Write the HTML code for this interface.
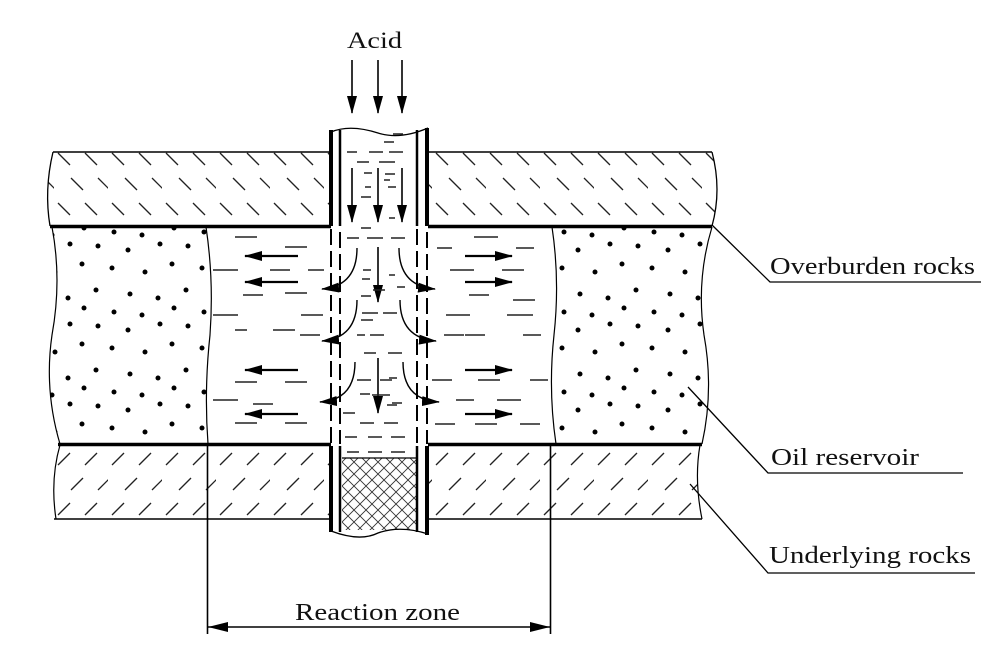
<!DOCTYPE html>
<html><head><meta charset="utf-8"><style>
html,body{margin:0;padding:0;background:#fff;}
svg{display:block;}
text{font-family:"Liberation Serif","Times New Roman",serif;fill:#111;}
</style></head><body>
<svg width="997" height="667" viewBox="0 0 997 667" xmlns="http://www.w3.org/2000/svg">
<defs>
<pattern id="hb" width="54" height="50" patternUnits="userSpaceOnUse">
<line x1="4" y1="3" x2="16" y2="15" stroke="#222" stroke-width="1.3"/>
<line x1="31" y1="3" x2="43" y2="15" stroke="#222" stroke-width="1.3"/>
<line x1="17" y1="28" x2="29" y2="40" stroke="#222" stroke-width="1.3"/>
<line x1="44" y1="28" x2="56" y2="40" stroke="#222" stroke-width="1.3"/>
</pattern>
<pattern id="hf" width="54" height="50" patternUnits="userSpaceOnUse">
<line x1="16" y1="3" x2="4" y2="15" stroke="#222" stroke-width="1.3"/>
<line x1="43" y1="3" x2="31" y2="15" stroke="#222" stroke-width="1.3"/>
<line x1="29" y1="28" x2="17" y2="40" stroke="#222" stroke-width="1.3"/>
<line x1="56" y1="28" x2="44" y2="40" stroke="#222" stroke-width="1.3"/>
</pattern>
<pattern id="dots" width="90" height="80" patternUnits="userSpaceOnUse">
<circle cx="8" cy="6" r="2.5"/><circle cx="38" cy="10" r="2.5"/><circle cx="70" cy="4" r="2.5"/>
<circle cx="22" cy="28" r="2.5"/><circle cx="55" cy="32" r="2.5"/><circle cx="82" cy="24" r="2.5"/>
<circle cx="6" cy="50" r="2.5"/><circle cx="40" cy="54" r="2.5"/><circle cx="68" cy="58" r="2.5"/>
<circle cx="24" cy="72" r="2.5"/><circle cx="52" cy="75" r="2.5"/><circle cx="84" cy="68" r="2.5"/>
</pattern>
<pattern id="xh" width="12" height="12" patternUnits="userSpaceOnUse">
<path d="M0 0L12 12M12 0L0 12" stroke="#333" stroke-width="0.9"/>
</pattern>
<marker id="ah2" markerWidth="18" markerHeight="10" refX="17" refY="5" orient="auto" markerUnits="userSpaceOnUse">
<path d="M0 0L18 5L0 10Z" fill="#000"/></marker>
</defs>

<path d="M53 152 L331 152 L331 226 L50 226 Q44 190 53 152Z" fill="url(#hb)"/>
<path d="M428 152 L712 152 Q722 190 712 226 L428 226Z" fill="url(#hb)"/>
<path d="M53 152 Q44 190 50 226" fill="none" stroke="#000" stroke-width="1.3"/>
<path d="M712 152 Q722 190 712 226" fill="none" stroke="#000" stroke-width="1.3"/>
<line x1="53" y1="152" x2="331" y2="152" stroke="#000" stroke-width="1.6"/>
<line x1="428" y1="152" x2="712" y2="152" stroke="#000" stroke-width="1.6"/>

<path d="M52 227 Q62 280 52 335 Q44 390 60 444 L208 444 Q204 390 210 335 Q214 280 206 227Z" fill="url(#dots)"/>
<path d="M552 227 Q560 280 554 335 Q548 390 556 444 L702 444 Q714 390 704 335 Q696 280 712 227Z" fill="url(#dots)"/>
<path d="M52 227 Q62 280 52 335 Q44 390 60 444" fill="none" stroke="#000" stroke-width="1.2"/>
<path d="M206 227 Q214 280 210 335 Q204 390 208 444" fill="none" stroke="#000" stroke-width="1.2"/>
<path d="M552 227 Q560 280 554 335 Q548 390 556 444" fill="none" stroke="#000" stroke-width="1.2"/>
<path d="M712 227 Q696 280 704 335 Q714 390 702 444" fill="none" stroke="#000" stroke-width="1.2"/>

<path d="M60 445 Q50 480 56 519 L331 519 L331 445Z" fill="url(#hf)"/>
<path d="M428 445 L700 445 Q694 480 702 519 L428 519Z" fill="url(#hf)"/>
<path d="M60 445 Q50 480 56 519" fill="none" stroke="#000" stroke-width="1.2"/>
<path d="M700 445 Q694 480 702 519" fill="none" stroke="#000" stroke-width="1.2"/>
<line x1="54" y1="519" x2="331" y2="519" stroke="#000" stroke-width="1.6"/>
<line x1="428" y1="519" x2="702" y2="519" stroke="#000" stroke-width="1.6"/>

<line x1="50" y1="226.5" x2="712" y2="226.5" stroke="#000" stroke-width="3.5"/>
<line x1="58" y1="444.5" x2="702" y2="444.5" stroke="#000" stroke-width="3.5"/>
<rect x="331" y="224" width="97" height="5" fill="#fff"/>
<rect x="331" y="442" width="97" height="5" fill="#fff"/>

<path d="M331 132 Q350 124 378 133 Q400 140 428 128" fill="none" stroke="#000" stroke-width="1.3"/>
<line x1="331" y1="130" x2="331" y2="226" stroke="#000" stroke-width="4"/>
<line x1="340" y1="130" x2="340" y2="226" stroke="#000" stroke-width="2.5"/>
<line x1="417" y1="130" x2="417" y2="226" stroke="#000" stroke-width="2.5"/>
<line x1="427" y1="128" x2="427" y2="226" stroke="#000" stroke-width="4"/>
<g stroke="#000" stroke-width="2" stroke-dasharray="16 6">
<line x1="331" y1="229" x2="331" y2="444"/>
<line x1="340" y1="232" x2="340" y2="444"/>
<line x1="417" y1="229" x2="417" y2="444"/>
<line x1="427" y1="232" x2="427" y2="444"/>
</g>
<rect x="342" y="458" width="75" height="72" fill="url(#xh)"/>
<line x1="342" y1="458" x2="417" y2="458" stroke="#000" stroke-width="1.2"/>
<path d="M331 531 Q360 542 378 533 Q400 525 428 534" fill="none" stroke="#000" stroke-width="1.3"/>
<line x1="331" y1="446" x2="331" y2="532" stroke="#000" stroke-width="4"/>
<line x1="340" y1="446" x2="340" y2="532" stroke="#000" stroke-width="2.5"/>
<line x1="417" y1="446" x2="417" y2="532" stroke="#000" stroke-width="2.5"/>
<line x1="427" y1="446" x2="427" y2="535" stroke="#000" stroke-width="4"/>

<text x="347" y="48" font-size="23" textLength="55" lengthAdjust="spacingAndGlyphs">Acid</text>
<g stroke="#000" stroke-width="1.6" marker-end="url(#ah2)">
<line x1="352" y1="60" x2="352" y2="113"/>
<line x1="378" y1="60" x2="378" y2="113"/>
<line x1="402" y1="60" x2="402" y2="113"/>
<line x1="352" y1="168" x2="352" y2="222"/>
<line x1="378" y1="168" x2="378" y2="222"/>
<line x1="402" y1="168" x2="402" y2="222"/>
<line x1="378" y1="247" x2="378" y2="302"/>
<line x1="378" y1="358" x2="378" y2="413"/>
</g>

<g stroke="#222" stroke-width="1.5">
<path d="M393 134h10M384 142h10M347 152h10M369 152h14M389 152h14M357 162h12M379 162h16M364 173h8M385 174h10M384 180h6M361 197h10M365 187h6M388 187h8M361 228h10M389 218h6
M347 238h12M367 238h16M391 238h14M363 270h8M362 279h8M389 275h6M361 296h10M373 290h12M397 287h8
M362 313h16M383 313h14M361 320h12M357 335h8M370 335h14M364 353h12M388 353h14M357 380h14M380 380h12M389 378h8M360 394h10M372 395h18M392 403h10
M343 413h12M387 405h10M360 423h14M384 423h14M345 437h12M368 437h14M391 437h14M347 452h12M368 452h14M391 452h14"/>
<path d="M235 237h22M285 247h22M213 270h25M270 270h20M308 270h16M243 295h20M285 293h22M213 315h25M301 315h22M235 330h12M273 330h22M300 335h20M235 382h22M285 382h22M213 400h25M253 404h20M235 423h22M285 423h22
M474 237h24M437 248h15M516 248h18M450 270h24M502 270h22M469 295h20M513 300h22M446 315h24M507 315h26M444 335h20M465 335h20M523 335h18M432 380h20M478 380h22M530 380h18M456 400h18M497 400h24M435 424h20M475 424h22M520 424h20"/>
</g>

<g stroke="#000" stroke-width="2.2" marker-end="url(#ah2)">
<line x1="298" y1="256" x2="245" y2="256"/>
<line x1="298" y1="282" x2="245" y2="282"/>
<line x1="298" y1="370" x2="245" y2="370"/>
<line x1="298" y1="414" x2="245" y2="414"/>
<line x1="465" y1="256" x2="512" y2="256"/>
<line x1="465" y1="282" x2="512" y2="282"/>
<line x1="465" y1="370" x2="512" y2="370"/>
<line x1="465" y1="414" x2="512" y2="414"/>
</g>
<g fill="none" stroke="#000" stroke-width="1.4" marker-end="url(#ah2)">
<path d="M357 248 Q357 286 322 289"/>
<path d="M399 248 Q399 286 435 289"/>
<path d="M357 300 Q357 338 322 341"/>
<path d="M400 300 Q400 338 436 341"/>
<path d="M355 362 Q355 400 320 402"/>
<path d="M403 362 Q403 400 439 402"/>
</g>

<line x1="207.5" y1="444" x2="207.5" y2="634" stroke="#000" stroke-width="1.6"/>
<line x1="550.5" y1="444" x2="550.5" y2="634" stroke="#000" stroke-width="1.6"/>
<line x1="208" y1="627" x2="550" y2="627" stroke="#000" stroke-width="1.6"/>
<path d="M208 627L228 622L228 632Z M550 627L530 622L530 632Z" fill="#000"/>
<text x="295" y="620" font-size="24" textLength="165" lengthAdjust="spacingAndGlyphs">Reaction zone</text>

<g fill="none" stroke="#000" stroke-width="1.3">
<path d="M712 225 L770 282 L981 282"/>
<path d="M688 387 L768 473 L963 473"/>
<path d="M690 484 L768 573 L975 573"/>
</g>
<text x="770" y="274" font-size="24" textLength="205" lengthAdjust="spacingAndGlyphs">Overburden rocks</text>
<text x="771" y="465" font-size="24" textLength="148" lengthAdjust="spacingAndGlyphs">Oil reservoir</text>
<text x="769" y="563" font-size="24" textLength="202" lengthAdjust="spacingAndGlyphs">Underlying rocks</text>
</svg>
</body></html>
